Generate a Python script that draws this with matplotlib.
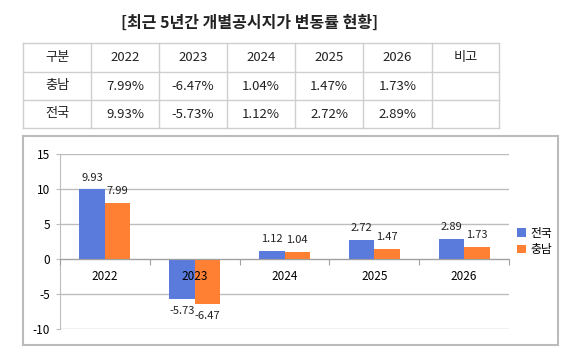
import matplotlib.pyplot as plt
import matplotlib as mpl
from matplotlib.patches import Rectangle
import numpy as np

plt.rcParams['font.family'] = ['Noto Sans CJK KR', 'DejaVu Sans']
mpl.rcParams['axes.unicode_minus'] = False

title = '[최근 5년간 개별공시지가 변동률 현황]'
years = ['2022', '2023', '2024', '2025', '2026']
chungnam = [7.99, -6.47, 1.04, 1.47, 1.73]
national = [9.93, -5.73, 1.12, 2.72, 2.89]
header = ['구분'] + years + ['비고']
row_names = ['충남', '전국']

blue = '#5B7BDC'
orange = '#FF7F33'
grid_c = '#BDBDBD'

W, H = 580, 360
fig = plt.figure(figsize=(W / 100, H / 100), dpi=100)

# overlay in pixel units for title, table and chart frame
bg = fig.add_axes([0, 0, 1, 1])
bg.set_xlim(0, W)
bg.set_ylim(H, 0)
bg.axis('off')

bg.text(250, 23, title, ha='center', va='center', fontsize=11.5, fontweight='bold', color='#222222')

col_x = [23, 91, 159, 227, 295, 363, 432, 499]
row_y = [43, 72, 100, 128]
for x in col_x:
    bg.plot([x, x], [row_y[0], row_y[-1]], color='#CFCFCF', lw=1)
for y in row_y:
    bg.plot([col_x[0], col_x[-1]], [y, y], color='#CFCFCF', lw=1)

rows = [header,
        [row_names[0]] + ['%.2f%%' % v for v in chungnam] + [''],
        [row_names[1]] + ['%.2f%%' % v for v in national] + ['']]
for r, cells in enumerate(rows):
    yc = (row_y[r] + row_y[r + 1]) / 2
    for c, txt in enumerate(cells):
        xc = (col_x[c] + col_x[c + 1]) / 2
        bg.text(xc, yc, txt, ha='center', va='center', fontsize=9.5, color='#222222')

bg.add_patch(Rectangle((23, 136), 535, 209, fill=False, edgecolor='#BBBBBB', lw=1.5))

# bar chart
ax = fig.add_axes([60 / W, (H - 329) / H, (509 - 60) / W, (329 - 154) / H])
x = np.arange(len(years))
w = 0.285
b1 = ax.bar(x - w / 2, national, w, color=blue, label='전국', zorder=3)
b2 = ax.bar(x + w / 2, chungnam, w, color=orange, label='충남', zorder=3)

for bars, vals in [(b1, national), (b2, chungnam)]:
    for rect, v in zip(bars, vals):
        cx = rect.get_x() + rect.get_width() / 2
        off = 5 if v >= 0 else -5
        ax.annotate('%.2f' % v, (cx, v), xytext=(0, off), textcoords='offset points',
                    ha='center', va='bottom' if v >= 0 else 'top', fontsize=8, color='#222222', zorder=4)

ax.set_xlim(-0.5, 4.5)
ax.set_ylim(-10, 15)
ax.set_yticks([-10, -5, 0, 5, 10, 15])
ax.yaxis.grid(True, color=grid_c, lw=1)
ax.set_axisbelow(True)
for s in ['top', 'right']:
    ax.spines[s].set_visible(False)
ax.spines['left'].set_color(grid_c)
ax.spines['bottom'].set_position(('data', 0))
ax.spines['bottom'].set_color('#A0A0A0')
ax.spines['bottom'].set_zorder(5)
ax.set_xticks(np.arange(-0.5, 5, 1))
ax.set_xticklabels([])
ax.set_xticks(x, minor=True)
ax.set_xticklabels(years, minor=True)
ax.tick_params(axis='x', which='major', length=4, color='#A0A0A0')
ax.tick_params(axis='x', which='minor', length=0, pad=8, labelsize=8.5)
ax.tick_params(axis='y', length=3, color=grid_c, labelsize=8.5, pad=4)
ax.xaxis.set_zorder(5)

ax.legend(loc='center left', bbox_to_anchor=(1.0, 0.5), frameon=False, fontsize=8.5,
          handlelength=0.7, handleheight=0.7, handletextpad=0.4, labelspacing=0.3, borderaxespad=0.3)

plt.savefig('out.png', dpi=100)
